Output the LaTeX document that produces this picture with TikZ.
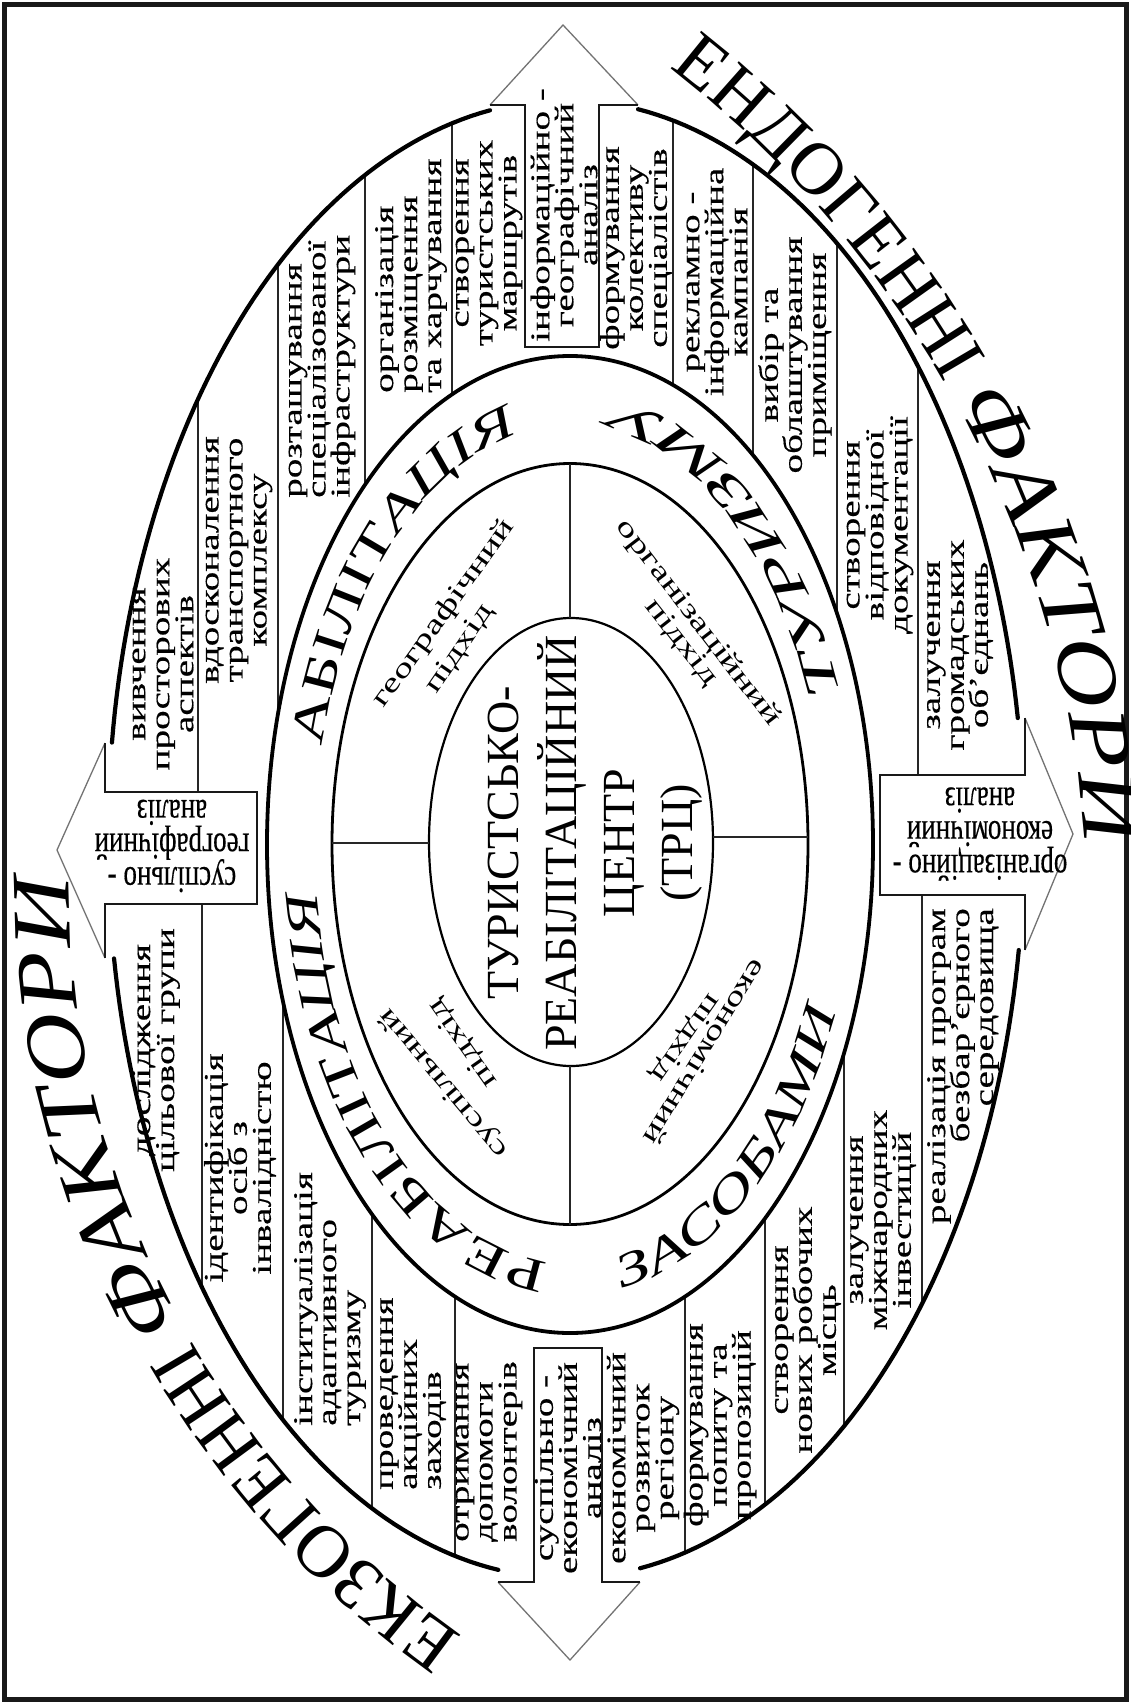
\documentclass[tikz,border=0pt]{standalone}
\usepackage{fontspec}
\setmainfont{Liberation Serif}
\newfontfamily\colfam[FakeStretch=1.45,FakeBold=0.45]{Liberation Serif}
\newfontfamily\quadfam[FakeStretch=1.45]{Liberation Serif}
\newfontfamily\arrfam[FakeBold=0.45]{Liberation Serif}
\newfontfamily\ringfam[FakeStretch=1.48]{Liberation Serif}
\newfontfamily\ringfamw[FakeStretch=1.8]{Liberation Serif}
\newfontfamily\factfam[FakeStretch=1.2]{Liberation Serif}
\usetikzlibrary{decorations.text}
\newcommand\colf{\colfam\fontsize{27}{24}\selectfont\lineskiplimit=-60pt\relax}
\newcommand\quadf{\quadfam\fontsize{27}{24}\selectfont}
\newcommand\arrf{\arrfam\fontsize{27}{24}\selectfont\lineskiplimit=-60pt\relax}
\newcommand\ringf{\ringfam\fontsize{47}{50}\selectfont}
\newcommand\ringfw{\ringfamw\fontsize{47}{50}\selectfont}
\newcommand\outf{\rmfamily\fontsize{74}{80}\selectfont}
\newcommand\factf{\factfam\fontsize{83}{90}\selectfont\itshape}
\newcommand\trcf{\rmfamily\fontsize{46}{58}\selectfont\lineskiplimit=-60pt\relax}
\begin{document}
\begin{tikzpicture}[x=1pt,y=-1pt,
 colline/.style={line width=1.3pt, draw=black!85},
 arrhead/.style={draw=black!55, line width=1.3pt, line join=miter},
 arrbody/.style={draw=black!90, line width=2pt, line join=miter},
 divline/.style={draw=black!85, line width=2pt},
 coltext/.style={rotate=90, font=\colf, align=center, inner sep=0pt},
 colstart/.style={coltext, align=left, anchor=west},
 colend/.style={coltext, align=right, anchor=east},
 quad/.style={font=\quadf, inner sep=0pt},
 arrtext/.style={rotate=180, yscale=1.4, font=\arrf, align=center, inner sep=0pt},
 trc/.style={rotate=90, font=\trcf, align=center, inner sep=0pt}]
\useasboundingbox (0,0) rectangle (1131,1704);
\fill[white] (0,0) rectangle (1131,1704);
\draw[line width=5pt, black!90] (4.5,4.5) rectangle (1126.5,1699.5);

% column separators (outer ring)
\foreach \X in {278,365,452,673,753,837} {
  \draw[colline] (\X,{839-739*sqrt(1-((\X-566)/458)^2)}) -- (\X,{844.5-488.5*sqrt(1-((\X-570)/303)^2)});
}
\foreach \X in {283,372,455,685,765,844} {
  \draw[colline] (\X,{839+739*sqrt(1-((\X-566)/458)^2)}) -- (\X,{844.5+488.5*sqrt(1-((\X-570)/303)^2)});
}
\draw[colline] (198,{839-739*sqrt(1-((198-566)/458)^2)}) -- (198,792);
\draw[colline] (202,904) -- (202,{839+739*sqrt(1-((202-566)/458)^2)});
\draw[colline] (918,{839-739*sqrt(1-((918-566)/458)^2)}) -- (918,775);
\draw[colline] (922,895) -- (922,{839+739*sqrt(1-((922-566)/458)^2)});

% outer ellipse with gaps for arrows
\foreach \a/\b in {9.42/80.95, 99.55/172.5, 189.3/261.5, 279.3/351.36} {
  \draw[line width=4.2pt, line cap=round] plot[domain=\a:\b, samples=60] ({566+458*cos(\x)},{839-739*sin(\x)});
}
\draw[line width=3.8pt] (570,844.5) ellipse [x radius=303pt, y radius=488.5pt];
\draw[line width=2.8pt] (570,844) ellipse [x radius=238pt, y radius=380.5pt];
\draw[line width=2.2pt] (571,842) ellipse [x radius=142pt, y radius=224pt];

% quadrant dividers
\draw[divline] (570,463.5) -- (570,618);
\draw[divline] (570,1066) -- (570,1224.5);
\draw[divline] (332,843) -- (429,843);
\draw[divline] (713,837) -- (808,837);

% block arrows
\draw[arrhead] (490,105) -- (563,25) -- (638,105);
\draw[arrbody] (490,105) -- (525,105) -- (525,347) -- (599,347) -- (599,105) -- (638,105);
\draw[arrhead] (105,743) -- (57,850) -- (105,958);
\draw[arrbody] (105,743) -- (105,792) -- (257,792) -- (257,904) -- (105,904) -- (105,958);
\draw[arrhead] (1025,718) -- (1073,834) -- (1025,950);
\draw[arrbody] (1025,718) -- (1025,775) -- (880,775) -- (880,895) -- (1025,895) -- (1025,950);
\draw[arrhead] (498,1582) -- (570,1660) -- (640,1582);
\draw[arrbody] (498,1582) -- (534,1582) -- (534,1348) -- (602,1348) -- (602,1582) -- (640,1582);

% column texts, upper half
\node[coltext] (t1) at (163,664) {вивчення\\просторових\\аспектів};
\node[coltext] (t2) at (239,560) {вдосконалення\\транспортного\\комплексу};
\node[colstart] (t3) at (322,498) {розташування\\спеціалізованої\\інфраструктури};
\node[colstart] (t4) at (411,393) {організація\\розміщення\\та харчування};
\node[coltext] (t5) at (489,243) {створення\\туристських\\маршрутів};
\node[coltext] (ta) at (564,215) {інформаційно -\\географічний\\аналіз};
\node[coltext] (t6) at (636,248) {формування\\колективу\\спеціалістів};
\node[coltext] (t7) at (717,282) {рекламно -\\інформаційна\\кампанія};
\node[coltext] (t8) at (795,355) {вибір та\\облаштування\\приміщення};
\node[coltext] (t9) at (880,525) {створення\\відповідної\\документації};
\node[coltext] (t10) at (960,645) {залучення\\громадських\\об’єднань};
% column texts, lower half
\node[coltext] (b1) at (156,1050) {дослідження\\цільової групи};
\node[coltext] (b2) at (240,1168) {ідентифікація\\осіб з\\інвалідністю};
\node[colstart] (b3) at (330,1426) {інституалізація\\адаптивного\\туризму};
\node[colstart] (b4) at (413,1490) {проведення\\акційних\\заходів};
\node[colstart] (b5) at (489,1542) {отримання\\допомоги\\волонтерів};
\node[coltext] (ba) at (568,1468) {суспільно -\\економічний\\аналіз};
\node[coltext] (b6) at (643,1458) {економічний\\розвиток\\регіону};
\node[coltext] (b7) at (720,1425) {формування\\попиту та\\пропозицій};
\node[coltext] (b8) at (808,1330) {створення\\нових робочих\\місць};
\node[coltext] (b9) at (883,1220) {залучення\\міжнародних\\інвестицій};
\node[colend] (b10) at (963,908) {реалізація програм\\безбар’єрного\\середовища};

% side arrow texts
\node[arrtext] (la) at (172,846) {суспільно -\\географічний\\аналіз};
\node[arrtext] (ra) at (980,834) {організаційно -\\економічний\\аналіз};

% quadrant texts
\node[quad, rotate=54.3] (q1) at (444,614) {географічний};
\node[quad, rotate=55.4] (q2) at (460,649) {підхід};
\node[quad, rotate=-52.5] (q3) at (698,623) {організаційний};
\node[quad, rotate=-51.8] (q4) at (681,643) {підхід};
\node[quad, rotate=130] (q5) at (444,1083) {суспільний};
\node[quad, rotate=125] (q6) at (463,1043) {підхід};
\node[quad, rotate=-121.5] (q7) at (706,1053) {економічний};
\node[quad, rotate=-125] (q8) at (685,1038) {підхід};

% centre
\node[trc] (trc) at (595.5,843) {ТУРИСТСЬКО-\\РЕАБІЛІТАЦІЙНИЙ\\ЦЕНТР\\(ТРЦ)};

% inner ring texts
\path[decorate, decoration={text along path, text align=left, text={|\ringf|РЕАБІЛІТ|\ringf\itshape|АЦІЯ}}]
  plot[domain=0:110, samples=110] ({570+255*cos(265.3-\x)},{844.5-419*sin(265.3-\x)});
\path[decorate, decoration={text along path, text align=left, text={|\ringf|АБІЛІТ|\ringf\itshape|АЦІЯ}}]
  plot[domain=0:120, samples=120] ({570+255*cos(166.5-\x)},{844.5-419*sin(166.5-\x)});
\path[decorate, decoration={text along path, text align=left, text={|\ringf\itshape|ЗАСОБАМИ}}]
  plot[domain=0:100, samples=100] ({570+286.5*cos(280.6+\x)},{844.5-451*sin(280.6+\x)});
\path[decorate, decoration={text along path, text align=left, text={|\ringfw\itshape|ТУРИЗМУ}}]
  plot[domain=0:100, samples=100] ({570+286.5*cos(19.5+\x)},{844.5-451*sin(19.5+\x)});

% outer factor texts
\path[decorate, decoration={text along path, text align=left, text={|\outf|ЕКЗОГЕННІ |\factf|ФАКТОРИ}}]
  plot[domain=0:75, samples=120] ({991+922*cos(235-\x)},{881-922*sin(235-\x)});
\path[decorate, decoration={text along path, text align=left, text={|\outf|ЕНДОГЕННІ |\factf|ФАКТОРИ}}]
  plot[domain=0:62, samples=120] ({11+1077*cos(52.3-\x)},{920-1077*sin(52.3-\x)});
\end{tikzpicture}
\end{document}
